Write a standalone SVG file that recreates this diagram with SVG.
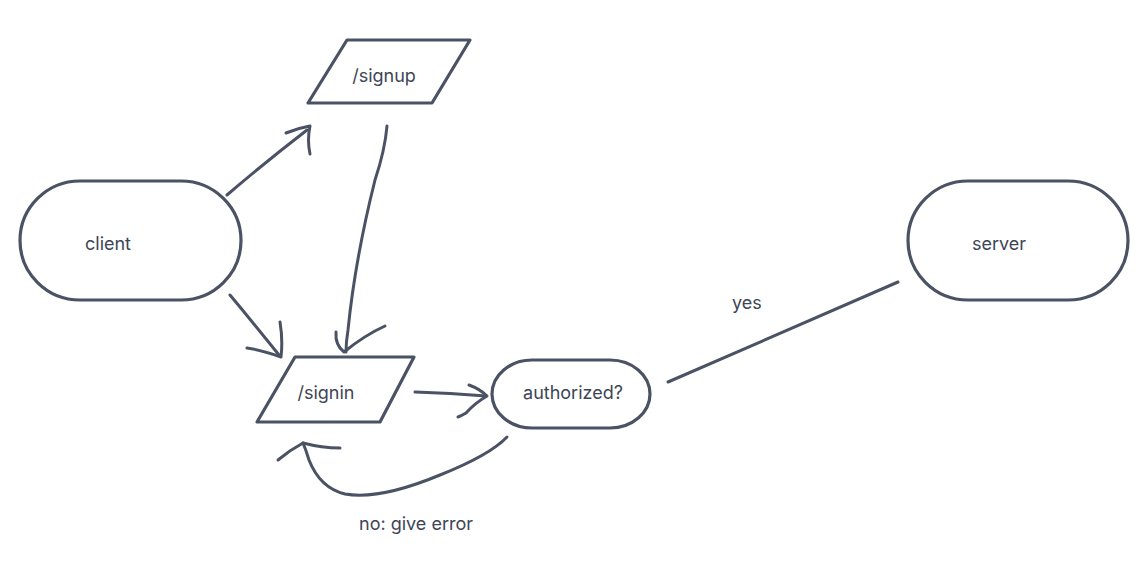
<svg xmlns="http://www.w3.org/2000/svg" width="1143" height="561" viewBox="0 0 1143 561">
<style>
.s{fill:none;stroke:#4a5263;stroke-width:3;stroke-linecap:round;stroke-linejoin:round}
.n{fill:#fff;stroke:#4a5263;stroke-width:3.2;stroke-linejoin:round}
text{font-family:Inter,"Liberation Sans",sans-serif;font-size:18px;fill:#3e4555;text-anchor:middle;dominant-baseline:central}
</style>
<rect width="1143" height="561" fill="#fff"/>
<g id="connectors">
<path class="s" d="M227 195 Q268 160 307 130"/>
<path class="s" d="M286 133 Q298 128 310 126 Q307 140 310 154"/>
<path class="s" d="M387 126 Q385 150 375 180 Q355 260 348 330 Q346 342 346 352"/>
<path class="s" d="M336 332 Q335 345 344 352 Q365 335 385 326"/>
<path class="s" d="M230 295 Q255 325 279 355"/>
<path class="s" d="M280 322 Q283 340 281 357 Q262 350 247 348"/>
<path class="s" d="M415 392 Q450 393 486 396"/>
<path class="s" d="M469 385 Q480 389 487 396 Q475 403 466 413 Q461 416 458 417"/>
<path class="s" d="M507 437 Q490 455 440 475 Q380 500 345 494 Q320 488 309 460 Q306 450 303 443"/>
<path class="s" d="M278 460 Q290 450 303 443 Q322 448 340 448"/>
<path class="s" d="M668 382 L898 282"/>
<text x="747" y="302">yes</text>
<text x="416" y="523">no: give error</text>
</g>
<g id="client">
<rect class="n" x="20" y="181" width="221" height="119" rx="60" ry="59.5"/>
<text x="108" y="243">client</text>
</g>
<g id="server">
<rect class="n" x="908" y="181" width="220" height="119" rx="60" ry="59.5"/>
<text x="999" y="243">server</text>
</g>
<g id="signup">
<path class="n" d="M347 40 L470 40 L432 103 L308 103 Z"/>
<text x="384" y="75">/signup</text>
</g>
<g id="signin">
<path class="n" d="M295 357 L414 357 L380 422 L257 422 Z"/>
<text x="326" y="392">/signin</text>
</g>
<g id="authorized">
<rect class="n" x="492" y="360" width="158" height="68" rx="40" ry="34"/>
<text x="573" y="392">authorized?</text>
</g>
</svg>
